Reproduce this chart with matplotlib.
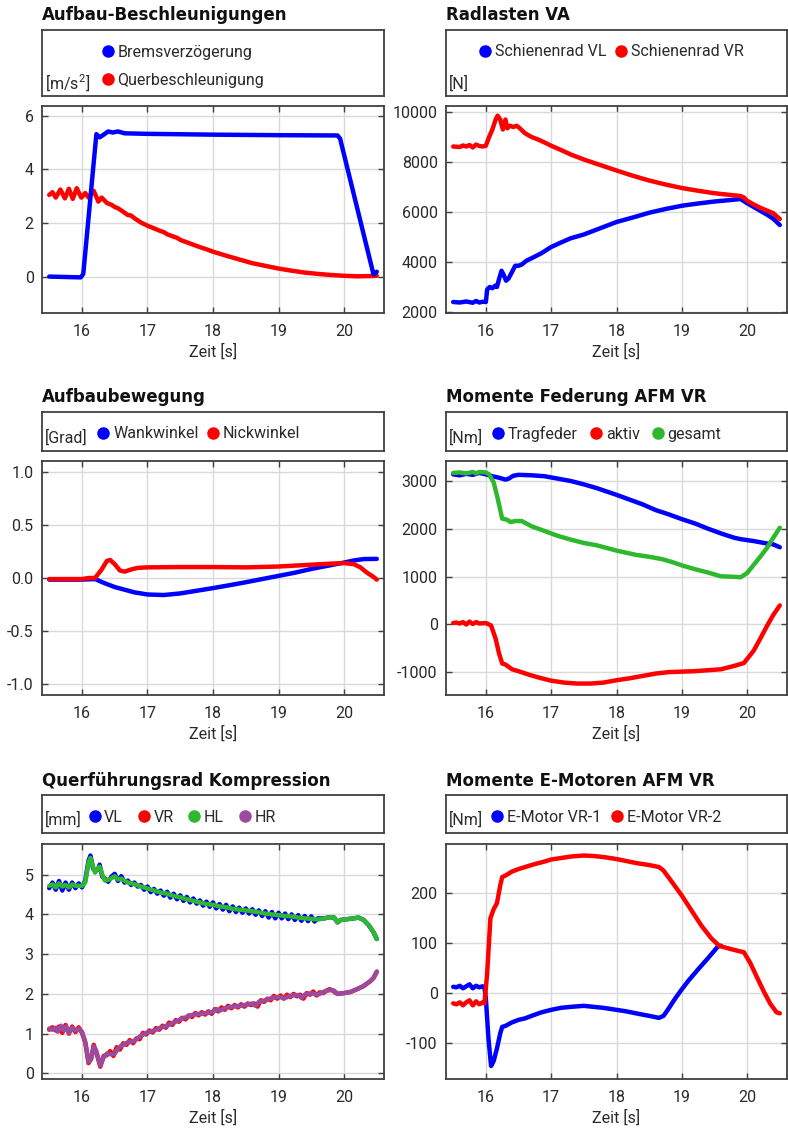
"""
Fahrversuch AFM: sechs Zeitverläufe (Beschleunigung, Radlasten, Aufbau,
Federung, Querführungsrad, E-Motoren) als 3x2 Raster.
"""

import matplotlib
matplotlib.use('Agg')
import matplotlib.pyplot as plt
from matplotlib.lines import Line2D


# Schrift: Roboto ist schmaler als DejaVu und kommt dem Original näher
plt.rcParams['font.family'] = ['Roboto', 'DejaVu Sans']
plt.rcParams['mathtext.fontset'] = 'custom'
plt.rcParams['mathtext.rm'] = 'Roboto'
plt.rcParams['mathtext.it'] = 'Roboto'
plt.rcParams['axes.unicode_minus'] = False

BLUE = '#0000ff'
RED = '#ff0000'
GREEN = '#2eb82e'
PURPLE = '#9b4a9e'

# ---------------------------------------------------------------- Daten
# (Zeit [s], Wert)
brems_pts = [(15.5, 0.0), (15.98, -0.03), (16.02, 0.1), (16.22, 5.32), (16.27, 5.2),
             (16.32, 5.28), (16.4, 5.42), (16.47, 5.38), (16.55, 5.42), (16.65, 5.35),
             (17.0, 5.33), (18.0, 5.3), (19.0, 5.28), (19.9, 5.27), (19.94, 5.15),
             (20.45, 0.08), (20.5, 0.18)]
quer_pts = [(15.5, 3.05), (15.55, 3.15), (15.6, 2.95), (15.67, 3.25), (15.74, 2.92),
            (15.8, 3.28), (15.86, 2.9), (15.92, 3.3), (15.99, 2.95), (16.05, 3.12),
            (16.1, 2.95), (16.18, 3.2), (16.25, 2.8), (16.3, 2.95), (16.38, 2.75),
            (16.45, 2.68), (16.5, 2.6), (16.55, 2.55), (16.6, 2.47), (16.7, 2.3),
            (16.75, 2.28), (16.8, 2.18), (16.9, 2.02), (16.95, 1.96), (17.0, 1.9),
            (17.1, 1.8), (17.2, 1.7), (17.25, 1.66), (17.3, 1.58), (17.4, 1.49),
            (17.45, 1.45), (17.5, 1.37), (17.6, 1.28), (17.7, 1.19), (17.8, 1.1),
            (17.9, 1.02), (18.0, 0.93), (18.2, 0.78), (18.4, 0.64), (18.6, 0.5),
            (18.8, 0.4), (19.0, 0.3), (19.2, 0.22), (19.4, 0.15), (19.6, 0.1),
            (19.8, 0.06), (20.0, 0.03), (20.2, 0.01), (20.4, 0.02), (20.5, 0.03)]

vl_pts = [(15.5, 2400), (15.6, 2380), (15.7, 2420), (15.8, 2370), (15.85, 2440),
          (15.9, 2380), (15.95, 2410), (16.0, 2400), (16.02, 2900), (16.06, 3000),
          (16.1, 2950), (16.14, 3050), (16.17, 3000), (16.2, 3300), (16.24, 3650),
          (16.27, 3500), (16.31, 3250), (16.35, 3350), (16.4, 3600), (16.45, 3850),
          (16.5, 3850), (16.55, 3900), (16.62, 4050), (16.7, 4150), (16.85, 4350),
          (17.0, 4600), (17.15, 4780), (17.3, 4950), (17.5, 5100), (17.75, 5350),
          (18.0, 5600), (18.25, 5780), (18.5, 5970), (18.75, 6120), (19.0, 6250),
          (19.25, 6340), (19.5, 6420), (19.75, 6480), (19.9, 6520), (20.0, 6350),
          (20.1, 6200), (20.2, 6050), (20.3, 5900), (20.4, 5730), (20.5, 5480)]
vr_pts = [(15.5, 8620), (15.6, 8600), (15.65, 8660), (15.7, 8620), (15.75, 8680),
          (15.8, 8580), (15.85, 8700), (15.9, 8640), (15.95, 8620), (16.0, 8650),
          (16.05, 9000), (16.1, 9300), (16.15, 9700), (16.18, 9850), (16.22, 9700),
          (16.26, 9300), (16.3, 9700), (16.33, 9350), (16.37, 9450), (16.42, 9400),
          (16.47, 9450), (16.52, 9350), (16.6, 9150), (16.7, 9000), (16.8, 8900),
          (16.9, 8780), (17.0, 8650), (17.15, 8480), (17.3, 8300), (17.5, 8100),
          (17.75, 7880), (18.0, 7660), (18.25, 7450), (18.5, 7260), (18.75, 7100),
          (19.0, 6960), (19.25, 6850), (19.5, 6750), (19.75, 6680), (19.9, 6640),
          (19.95, 6580), (20.0, 6450), (20.1, 6300), (20.2, 6170), (20.3, 6060),
          (20.4, 5950), (20.5, 5720)]

wank_pts = [(15.5, -0.015), (16.0, -0.015), (16.2, -0.01), (16.35, -0.05), (16.5, -0.085),
            (16.65, -0.11), (16.8, -0.135), (17.0, -0.155), (17.25, -0.16), (17.5, -0.145),
            (17.75, -0.12), (18.0, -0.095), (18.25, -0.068), (18.5, -0.04), (18.75, -0.01),
            (19.0, 0.02), (19.25, 0.05), (19.5, 0.085), (19.75, 0.115), (20.0, 0.145),
            (20.15, 0.165), (20.3, 0.178), (20.5, 0.18)]
nick_pts = [(15.5, -0.01), (16.0, -0.01), (16.1, 0.0), (16.2, 0.0), (16.3, 0.08),
            (16.38, 0.16), (16.43, 0.17), (16.5, 0.13), (16.58, 0.07), (16.65, 0.06),
            (16.75, 0.08), (16.85, 0.095), (17.0, 0.1), (17.5, 0.103), (18.0, 0.103),
            (18.5, 0.1), (19.0, 0.108), (19.5, 0.125), (19.8, 0.135), (20.0, 0.14),
            (20.15, 0.13), (20.25, 0.1), (20.35, 0.05), (20.45, 0.01), (20.5, -0.015)]

trag_pts = [(15.5, 3150), (15.6, 3130), (15.7, 3160), (15.8, 3140), (15.9, 3180),
            (16.0, 3150), (16.1, 3110), (16.2, 3080), (16.3, 3040), (16.35, 3060),
            (16.42, 3120), (16.5, 3140), (16.7, 3130), (16.9, 3110), (17.1, 3060),
            (17.3, 3010), (17.5, 2940), (17.7, 2860), (18.0, 2720), (18.2, 2620),
            (18.4, 2520), (18.6, 2400), (18.8, 2310), (19.0, 2210), (19.2, 2120),
            (19.4, 2010), (19.6, 1910), (19.8, 1820), (19.9, 1790), (20.1, 1750),
            (20.3, 1700), (20.4, 1680), (20.5, 1620)]
aktiv_pts = [(15.5, 30), (15.55, 40), (15.6, 20), (15.65, 50), (15.7, 0), (15.75, 60),
             (15.8, 10), (15.85, 50), (15.9, 20), (16.0, 30), (16.08, -20), (16.15, -300),
             (16.2, -600), (16.25, -820), (16.3, -840), (16.4, -940), (16.5, -980),
             (16.65, -1050), (16.8, -1110), (17.0, -1180), (17.2, -1220), (17.4, -1240),
             (17.6, -1240), (17.8, -1220), (18.0, -1170), (18.2, -1130), (18.4, -1080),
             (18.6, -1030), (18.8, -1000), (19.0, -990), (19.2, -980), (19.4, -960),
             (19.6, -940), (19.8, -870), (19.95, -810), (20.1, -550), (20.2, -300),
             (20.3, -40), (20.4, 200), (20.5, 400)]
gesamt_pts = [(15.5, 3180), (15.6, 3190), (15.7, 3170), (15.8, 3200), (15.85, 3170),
              (15.9, 3200), (16.0, 3190), (16.05, 3150), (16.12, 2980), (16.18, 2650),
              (16.25, 2220), (16.32, 2200), (16.38, 2150), (16.45, 2170), (16.55, 2170),
              (16.7, 2060), (16.9, 1960), (17.1, 1860), (17.3, 1780), (17.5, 1710),
              (17.7, 1660), (18.0, 1550), (18.3, 1460), (18.5, 1420), (18.7, 1370),
              (18.85, 1310), (19.0, 1240), (19.2, 1160), (19.4, 1090), (19.6, 1010),
              (19.8, 1000), (19.9, 990), (20.0, 1080), (20.1, 1250), (20.2, 1420),
              (20.3, 1600), (20.4, 1820), (20.5, 2030)]

qf_vl_pts = [(15.5, 4.66), (15.55, 4.8), (15.6, 4.62), (15.65, 4.84), (15.7, 4.6),
             (15.75, 4.8), (15.8, 4.62), (15.85, 4.8), (15.9, 4.66), (15.95, 4.78),
             (16.0, 4.68), (16.05, 4.85), (16.1, 5.35), (16.13, 5.48), (16.17, 5.15),
             (16.2, 5.1), (16.24, 5.12), (16.27, 5.25), (16.31, 4.95), (16.35, 4.9),
             (16.4, 4.82), (16.45, 4.95), (16.5, 5.02), (16.55, 4.84), (16.6, 4.96),
             (16.65, 4.8), (16.7, 4.85), (16.75, 4.74), (16.8, 4.8), (16.85, 4.7),
             (16.9, 4.74), (16.95, 4.62), (17.0, 4.7), (17.05, 4.56), (17.1, 4.64),
             (17.15, 4.52), (17.2, 4.6), (17.25, 4.47), (17.3, 4.57), (17.35, 4.42),
             (17.4, 4.52), (17.45, 4.38), (17.5, 4.48), (17.55, 4.34), (17.6, 4.44),
             (17.65, 4.3), (17.7, 4.4), (17.75, 4.27), (17.8, 4.35), (17.85, 4.22),
             (17.9, 4.32), (17.95, 4.19), (18.0, 4.3), (18.05, 4.15), (18.1, 4.26),
             (18.15, 4.12), (18.2, 4.24), (18.25, 4.08), (18.3, 4.2), (18.35, 4.06),
             (18.4, 4.17), (18.45, 4.04), (18.5, 4.15), (18.55, 4.02), (18.6, 4.13),
             (18.65, 3.99), (18.7, 4.1), (18.75, 3.96), (18.8, 4.08), (18.85, 3.92),
             (18.9, 4.06), (18.95, 3.9), (19.0, 4.04), (19.05, 3.9), (19.1, 4.02),
             (19.15, 3.88), (19.2, 4.0), (19.25, 3.86), (19.3, 3.98), (19.35, 3.84),
             (19.4, 3.96), (19.45, 3.83), (19.5, 3.95), (19.55, 3.82), (19.6, 3.9),
             (19.7, 3.9), (19.78, 3.93), (19.85, 3.92), (19.9, 3.8), (19.95, 3.86),
             (20.05, 3.88), (20.15, 3.9), (20.22, 3.92), (20.3, 3.86), (20.38, 3.72),
             (20.45, 3.55), (20.5, 3.38)]
qf_vr_pts = [(15.5, 1.1), (15.55, 1.16), (15.6, 1.08), (15.65, 1.18), (15.7, 1.02),
             (15.75, 1.22), (15.8, 1.0), (15.85, 1.18), (15.9, 1.04), (15.95, 1.16),
             (16.0, 1.02), (16.05, 0.78), (16.1, 0.26), (16.14, 0.38), (16.18, 0.72),
             (16.22, 0.52), (16.28, 0.17), (16.33, 0.44), (16.38, 0.46), (16.43, 0.56),
             (16.48, 0.44), (16.53, 0.66), (16.58, 0.6), (16.63, 0.76), (16.68, 0.72),
             (16.73, 0.84), (16.78, 0.76), (16.83, 0.88), (16.88, 0.86), (16.93, 1.02),
             (16.98, 0.98), (17.03, 1.08), (17.08, 1.03), (17.13, 1.14), (17.18, 1.1),
             (17.23, 1.2), (17.28, 1.15), (17.33, 1.28), (17.38, 1.22), (17.43, 1.34),
             (17.48, 1.3), (17.53, 1.4), (17.58, 1.36), (17.63, 1.46), (17.68, 1.42),
             (17.73, 1.52), (17.78, 1.46), (17.83, 1.54), (17.88, 1.48), (17.93, 1.56),
             (17.98, 1.5), (18.03, 1.62), (18.08, 1.56), (18.13, 1.66), (18.18, 1.6),
             (18.23, 1.7), (18.28, 1.64), (18.33, 1.72), (18.38, 1.66), (18.43, 1.74),
             (18.48, 1.68), (18.53, 1.76), (18.58, 1.72), (18.63, 1.76), (18.68, 1.68),
             (18.73, 1.84), (18.78, 1.8), (18.83, 1.88), (18.88, 1.84), (18.93, 1.95),
             (18.98, 1.88), (19.03, 1.96), (19.08, 1.88), (19.13, 1.98), (19.18, 1.92),
             (19.23, 2.0), (19.28, 1.94), (19.33, 1.98), (19.38, 1.88), (19.43, 2.02),
             (19.48, 1.98), (19.53, 2.06), (19.58, 1.96), (19.63, 2.04), (19.68, 2.02),
             (19.73, 2.08), (19.78, 2.12), (19.83, 2.08), (19.88, 2.02), (19.9, 2.0),
             (20.0, 2.02), (20.1, 2.05), (20.2, 2.12), (20.3, 2.2), (20.4, 2.32),
             (20.45, 2.4), (20.5, 2.56)]
qf_hl_pts = [(15.5, 4.72), (15.55, 4.75), (15.6, 4.68), (15.65, 4.78), (15.7, 4.7),
             (15.75, 4.74), (15.8, 4.68), (15.85, 4.75), (15.9, 4.72), (16.0, 4.72),
             (16.05, 4.8), (16.1, 5.3), (16.13, 5.42), (16.17, 5.2), (16.2, 5.05),
             (16.24, 5.15), (16.27, 5.2), (16.31, 5.0), (16.35, 4.85), (16.42, 4.88),
             (16.5, 4.96), (16.55, 4.88), (16.6, 4.9), (16.7, 4.8), (16.8, 4.76),
             (16.9, 4.7), (17.0, 4.65), (17.1, 4.6), (17.2, 4.55), (17.3, 4.52),
             (17.4, 4.46), (17.5, 4.43), (17.6, 4.38), (17.7, 4.34), (17.8, 4.3),
             (17.9, 4.26), (18.0, 4.24), (18.1, 4.2), (18.2, 4.18), (18.3, 4.14),
             (18.4, 4.12), (18.5, 4.1), (18.6, 4.08), (18.7, 4.05), (18.8, 4.02),
             (18.9, 4.0), (19.0, 3.98), (19.1, 3.96), (19.2, 3.95), (19.3, 3.92),
             (19.4, 3.9), (19.5, 3.89), (19.6, 3.87), (19.7, 3.9), (19.78, 3.93),
             (19.85, 3.92), (19.9, 3.8), (19.95, 3.86), (20.05, 3.88), (20.15, 3.9),
             (20.22, 3.92), (20.3, 3.86), (20.38, 3.72), (20.45, 3.55), (20.5, 3.38)]
qf_hr_pts = [(15.5, 1.13), (15.55, 1.1), (15.6, 1.15), (15.63, 1.05), (15.68, 1.2),
             (15.72, 1.08), (15.76, 1.18), (15.8, 1.02), (15.85, 1.15), (15.9, 1.08),
             (15.95, 1.12), (16.0, 1.05), (16.05, 0.8), (16.1, 0.3), (16.14, 0.35),
             (16.18, 0.68), (16.22, 0.55), (16.28, 0.2), (16.33, 0.4), (16.38, 0.5),
             (16.45, 0.48), (16.5, 0.5), (16.55, 0.62), (16.6, 0.7), (16.7, 0.78),
             (16.8, 0.82), (16.9, 0.95), (17.0, 1.03), (17.1, 1.08), (17.2, 1.15),
             (17.3, 1.2), (17.4, 1.28), (17.5, 1.36), (17.6, 1.42), (17.7, 1.48),
             (17.8, 1.5), (17.9, 1.52), (18.0, 1.55), (18.05, 1.62), (18.1, 1.58),
             (18.2, 1.65), (18.3, 1.68), (18.4, 1.7), (18.5, 1.72), (18.6, 1.76),
             (18.65, 1.7), (18.7, 1.8), (18.8, 1.84), (18.9, 1.9), (19.0, 1.92),
             (19.1, 1.9), (19.2, 1.96), (19.3, 1.97), (19.35, 1.9), (19.4, 1.98),
             (19.5, 2.02), (19.6, 1.98), (19.7, 2.06), (19.8, 2.1), (19.85, 2.08),
             (19.9, 2.0), (20.0, 2.02), (20.1, 2.05), (20.2, 2.12), (20.3, 2.2),
             (20.4, 2.32), (20.45, 2.4), (20.5, 2.56)]

em1_pts = [(15.5, 13), (15.55, 12), (15.6, 15), (15.65, 10), (15.7, 14), (15.75, 18),
           (15.8, 10), (15.85, 15), (15.9, 12), (15.95, 14), (15.98, 10), (16.0, -10),
           (16.04, -90), (16.08, -145), (16.12, -135), (16.17, -110), (16.22, -80),
           (16.25, -67), (16.3, -65), (16.4, -58), (16.5, -53), (16.6, -50), (16.7, -45),
           (16.85, -38), (17.0, -33), (17.15, -29), (17.3, -27), (17.5, -25), (17.65, -27),
           (17.8, -29), (18.0, -33), (18.15, -36), (18.3, -40), (18.5, -45), (18.65, -49),
           (18.72, -45), (18.8, -30), (18.9, -10), (19.0, 8), (19.1, 25), (19.25, 48),
           (19.4, 70), (19.55, 93), (19.6, 95)]
em2_pts = [(15.5, -20), (15.55, -22), (15.6, -18), (15.65, -24), (15.7, -18), (15.75, -14),
           (15.8, -24), (15.85, -16), (15.9, -22), (15.95, -18), (15.98, -20), (16.02, 40),
           (16.07, 150), (16.12, 168), (16.17, 180), (16.22, 215), (16.25, 232), (16.3, 235),
           (16.4, 243), (16.5, 248), (16.6, 252), (16.75, 258), (16.9, 263), (17.0, 267),
           (17.15, 270), (17.3, 273), (17.5, 275), (17.65, 274), (17.8, 272), (18.0, 268),
           (18.15, 264), (18.3, 260), (18.5, 256), (18.65, 252), (18.72, 245), (18.85, 222),
           (19.0, 195), (19.15, 165), (19.3, 135), (19.45, 110), (19.57, 95), (19.7, 90),
           (19.85, 85), (19.95, 82), (20.05, 60), (20.15, 32), (20.25, 5), (20.35, -20),
           (20.45, -38), (20.5, -40)]

x_ticks = [16, 17, 18, 19, 20]

# ---------------------------------------------------------------- Layout (Pixel)
W, H = 788, 1135
COLS = [(42, 384), (446, 787)]
# (Titel-Grundlinie, Legendenbox oben/unten, Achse oben/unten)
ROWS = [(20, 30, 96, 106, 313),
        (402, 412, 451, 461, 695),
        (786, 795, 833, 844, 1079)]

EDGE = '#404040'
TXT = '#2a2a2a'
FS = 11.5


def px_rect(x0, y0, x1, y1):
    """Pixelrechteck (oben links Ursprung) in Figure-Koordinaten."""
    return [x0 / W, 1 - y1 / H, (x1 - x0) / W, (y1 - y0) / H]


def setup_axes(ax, ylim, yticks, yfmt=None):
    """Achse mit Gitter, Ticks innen auf allen Seiten."""
    ax.set_xlim(15.39, 20.61)
    ax.set_ylim(*ylim)
    ax.set_xticks(x_ticks)
    ax.set_yticks(yticks)
    if yfmt:
        ax.set_yticklabels([yfmt.format(v) for v in yticks])
    ax.grid(True, color='#d9d9d9', linewidth=1.0)
    ax.set_axisbelow(True)
    ax.tick_params(direction='in', top=True, right=True, length=4.5, width=1,
                   color=EDGE, labelsize=FS, labelcolor=TXT)
    ax.tick_params(axis='y', pad=6)
    ax.tick_params(axis='x', pad=8)
    for sp in ax.spines.values():
        sp.set_color(EDGE)
        sp.set_linewidth(1.3)
    ax.set_xlabel('Zeit [s]', fontsize=FS, color=TXT, labelpad=3)


def plot_series(ax, pts, color, z=2):
    t, v = zip(*pts)
    ax.plot(t, v, color=color, linewidth=3.2, solid_capstyle='round', zorder=z)


def legend_box(fig, rect, unit, unit_y, labels, colors, leg_x, leg_y, ncol,
               colsp=0.5, spacing=0.5):
    """Rahmen über der Achse mit Einheit und Punkt-Legende."""
    lax = fig.add_axes(rect)
    lax.set_xticks([])
    lax.set_yticks([])
    for sp in lax.spines.values():
        sp.set_color(EDGE)
        sp.set_linewidth(1.3)
    lax.text(0.008, unit_y, unit, transform=lax.transAxes, fontsize=FS,
             va='center', ha='left', color=TXT)
    handles = [Line2D([], [], marker='o', linestyle='none', color=c,
                      markersize=8, label=l) for l, c in zip(labels, colors)]
    lax.legend(handles=handles, loc='center left', bbox_to_anchor=(leg_x, leg_y),
               ncol=ncol, frameon=False, fontsize=FS, handlelength=0.8,
               handletextpad=0.2, columnspacing=colsp, borderpad=0,
               borderaxespad=0, labelspacing=spacing, labelcolor=TXT)
    return lax


def panel(fig, row, col, title):
    base, ly0, ly1, ay0, ay1 = ROWS[row]
    x0, x1 = COLS[col]
    fig.text(x0 / W, 1 - base / H, title, fontsize=12, fontweight='bold',
             family='DejaVu Sans', va='baseline', ha='left', color='#111111')
    ax = fig.add_axes(px_rect(x0, ay0, x1, ay1))
    return ax, px_rect(x0, ly0, x1, ly1)


fig = plt.figure(figsize=(W / 100, H / 100), dpi=100)

# 1) Aufbau-Beschleunigungen
ax, lrect = panel(fig, 0, 0, 'Aufbau-Beschleunigungen')
plot_series(ax, quer_pts, RED, 2)
plot_series(ax, brems_pts, BLUE, 3)
setup_axes(ax, (-1.36, 6.37), [0, 2, 4, 6])
legend_box(fig, lrect, r'[m/s$^2$]', 0.2, ['Bremsverzögerung', 'Querbeschleunigung'],
           [BLUE, RED], 0.173, 0.45, 1, spacing=0.85)

# 2) Radlasten VA
ax, lrect = panel(fig, 0, 1, 'Radlasten VA')
plot_series(ax, vl_pts, BLUE)
plot_series(ax, vr_pts, RED)
setup_axes(ax, (1960, 10240), [2000, 4000, 6000, 8000, 10000])
legend_box(fig, lrect, '[N]', 0.18, ['Schienenrad VL', 'Schienenrad VR'],
           [BLUE, RED], 0.097, 0.667, 2, colsp=0.5)

# 3) Aufbaubewegung
ax, lrect = panel(fig, 1, 0, 'Aufbaubewegung')
plot_series(ax, wank_pts, BLUE)
plot_series(ax, nick_pts, RED)
setup_axes(ax, (-1.1, 1.1), [-1.0, -0.5, 0.0, 0.5, 1.0], '{:.1f}')
legend_box(fig, lrect, '[Grad]', 0.35, ['Wankwinkel', 'Nickwinkel'],
           [BLUE, RED], 0.161, 0.44, 2, colsp=0.5)

# 4) Momente Federung AFM VR
ax, lrect = panel(fig, 1, 1, 'Momente Federung AFM VR')
plot_series(ax, trag_pts, BLUE)
plot_series(ax, aktiv_pts, RED)
plot_series(ax, gesamt_pts, GREEN)
setup_axes(ax, (-1480, 3430), [-1000, 0, 1000, 2000, 3000])
legend_box(fig, lrect, '[Nm]', 0.35, ['Tragfeder', 'aktiv', 'gesamt'],
           [BLUE, RED, GREEN], 0.135, 0.44, 3, colsp=0.75)

# 5) Querführungsrad Kompression
ax, lrect = panel(fig, 2, 0, 'Querführungsrad Kompression')
plot_series(ax, qf_vl_pts, BLUE)
plot_series(ax, qf_vr_pts, RED)
plot_series(ax, qf_hl_pts, GREEN)
plot_series(ax, qf_hr_pts, PURPLE)
setup_axes(ax, (-0.14, 5.77), [0, 1, 2, 3, 4, 5])
legend_box(fig, lrect, '[mm]', 0.34, ['VL', 'VR', 'HL', 'HR'],
           [BLUE, RED, GREEN, PURPLE], 0.135, 0.41, 4, colsp=0.9)

# 6) Momente E-Motoren AFM VR
ax, lrect = panel(fig, 2, 1, 'Momente E-Motoren AFM VR')
plot_series(ax, em1_pts, BLUE)
plot_series(ax, em2_pts, RED)
setup_axes(ax, (-171, 298), [-100, 0, 100, 200])
legend_box(fig, lrect, '[Nm]', 0.34, ['E-Motor VR-1', 'E-Motor VR-2'],
           [BLUE, RED], 0.132, 0.41, 2, colsp=0.6)

fig.savefig('out.png', dpi=100)
plt.close(fig)
